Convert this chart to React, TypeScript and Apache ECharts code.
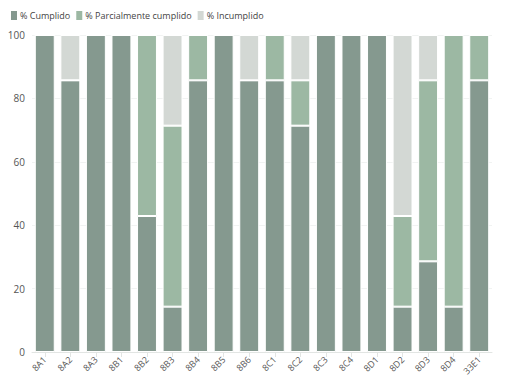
import React, { useEffect, useRef } from "react";
import * as echarts from "echarts";

const categories = ["8A1","8A2","8A3","8B1","8B2","8B3","8B4","8B5","8B6","8C1","8C2","8C3","8C4","8D1","8D2","8D3","8D4","33E1"];
const cumplido = [100, 85.7, 100, 100, 42.9, 14.3, 85.7, 100, 85.7, 85.7, 71.4, 100, 100, 100, 14.3, 28.6, 14.3, 85.7];
const parcial = [0, 0, 0, 0, 57.1, 57.1, 14.3, 0, 0, 14.3, 14.3, 0, 0, 0, 28.6, 57.1, 85.7, 14.3];
const incumplido = [0, 14.3, 0, 0, 0, 28.6, 0, 0, 14.3, 0, 14.3, 0, 0, 0, 57.1, 14.3, 0, 0];
const seriesNames = ["% Cumplido", "% Parcialmente cumplido", "% Incumplido"];
const colors = ["#85998f", "#9cb8a3", "#d3d8d4"];

export default function App() {
  const ref = useRef<HTMLDivElement>(null);
  useEffect(() => {
    if (!ref.current) return;
    const chart = echarts.init(ref.current, null, { renderer: "svg" });
    const font = "Open Sans";
    const mk = (name: string, data: number[], color: string) => ({
      name,
      type: "bar",
      stack: "total",
      data,
      barCategoryGap: "22%",
      itemStyle: { color, borderColor: "#ffffff", borderWidth: 1 },
    });
    chart.setOption({
      animation: false,
      color: colors,
      textStyle: { fontFamily: font },
      legend: {
        left: 4,
        top: 4,
        itemWidth: 8,
        itemHeight: 11,
        itemGap: 4,
        icon: "rect",
        textStyle: { fontSize: 9, color: "#444", fontFamily: font, padding: [0, 0, 0, -3] },
        data: seriesNames,
      },
      grid: { left: 32, right: 20, top: 35, bottom: 37 },
      xAxis: {
        type: "category",
        data: categories,
        axisLine: { lineStyle: { color: "#e2e5e3" } },
        axisTick: { show: true, alignWithLabel: true, lineStyle: { color: "#e2e5e3" } },
        axisLabel: { rotate: 45, fontSize: 9, color: "#555", margin: 6, fontFamily: font },
      },
      yAxis: {
        type: "value",
        min: 0,
        max: 100,
        interval: 20,
        axisLine: { show: false },
        axisTick: { show: false },
        axisLabel: { fontSize: 10, color: "#555", margin: 7, fontFamily: font },
        splitLine: { lineStyle: { color: "#f1f3f2" } },
      },
      series: [
        mk(seriesNames[0], cumplido, colors[0]),
        mk(seriesNames[1], parcial, colors[1]),
        mk(seriesNames[2], incumplido, colors[2]),
      ],
    });
    return () => chart.dispose();
  }, []);
  return <div ref={ref} style={{ width: 512, height: 389, position: "absolute", left: 0, top: 0 }} />;
}
